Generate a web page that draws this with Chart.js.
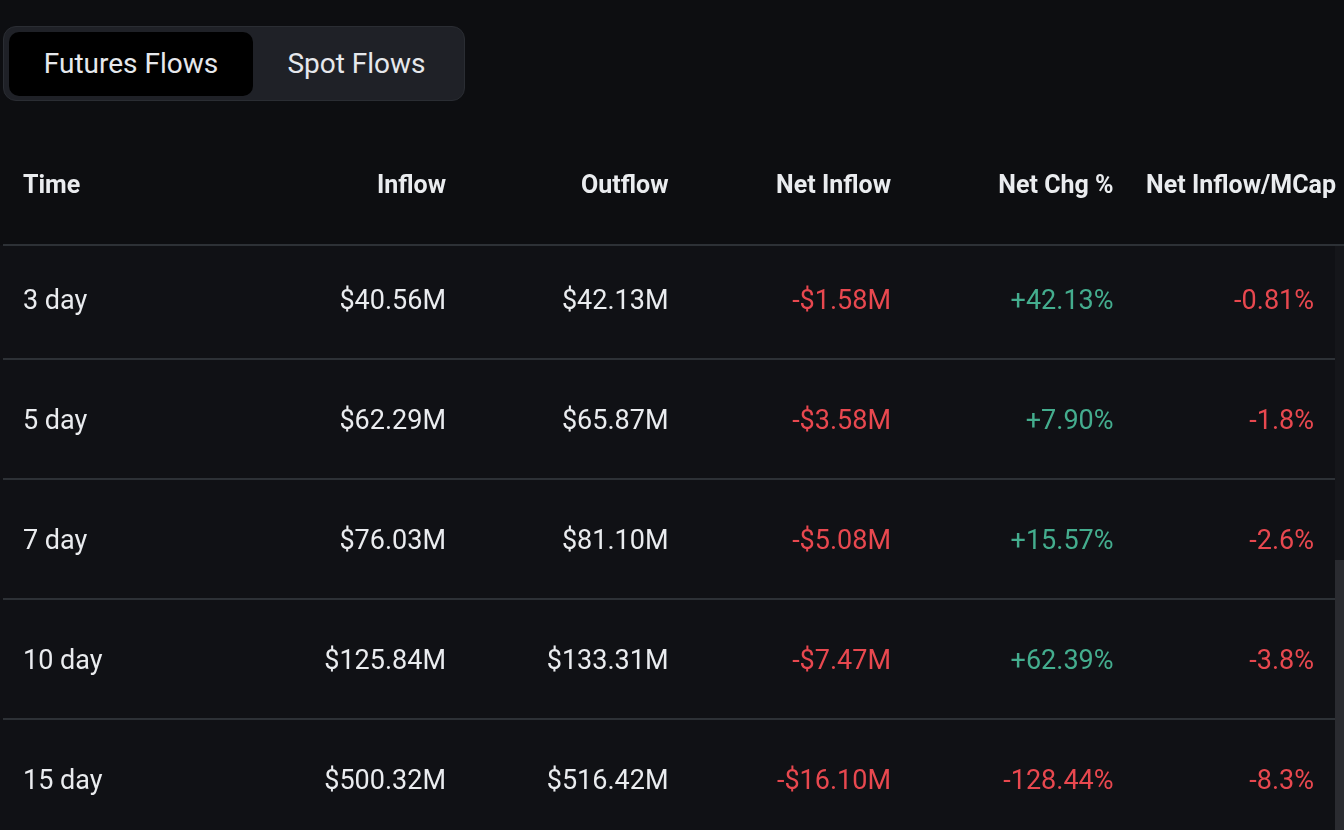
<!DOCTYPE html>
<html>
<head>
<meta charset="utf-8">
<script src="https://cdn.jsdelivr.net/npm/chart.js@4"></script>
<style>
  html, body { margin: 0; padding: 0; background: #0d0e11; overflow: hidden; }
  body { width: 1344px; height: 830px; position: relative; font-family: Roboto, "Noto Sans", sans-serif; }
  .toggle {
    position: absolute; left: 3px; top: 26px; width: 462px; height: 75px;
    box-sizing: border-box; border: 1px solid #2a2d33; border-radius: 13px;
    background: #1f2127;
  }
  .toggle div {
    position: absolute; top: 5px; height: 64px; line-height: 63px;
    text-align: center; font-size: 28px; color: #e6e8ec; border-radius: 10px;
  }
  .toggle .on { left: 5px; width: 244px; background: #000; }
  .toggle .off { left: 249px; width: 207px; }
  #tableCanvas { position: absolute; left: 0; top: 0; }
</style>
</head>
<body>
<div class="toggle">
  <div class="on">Futures Flows</div>
  <div class="off">Spot Flows</div>
</div>
<div style="position:absolute;left:0;top:0;width:1344px;height:830px;">
  <canvas id="tableCanvas"></canvas>
</div>
<script>
const columns = ["Time", "Inflow", "Outflow", "Net Inflow", "Net Chg %", "Net Inflow/MCap"];
const periods = ["3 day", "5 day", "7 day", "10 day", "15 day"];
const inflow = ["$40.56M", "$62.29M", "$76.03M", "$125.84M", "$500.32M"];
const outflow = ["$42.13M", "$65.87M", "$81.10M", "$133.31M", "$516.42M"];
const netInflow = ["-$1.58M", "-$3.58M", "-$5.08M", "-$7.47M", "-$16.10M"];
const netChg = ["+42.13%", "+7.90%", "+15.57%", "+62.39%", "-128.44%"];
const netInflowMcap = ["-0.81%", "-1.8%", "-2.6%", "-3.8%", "-8.3%"];

const WHITE = "#eaecef";
const RED = "#e8484f";
const GREEN = "#44ad8e";
const LINE = "#2d3136";

function cellColor(text, col) {
  if (col < 3) return WHITE;
  return text.charAt(0) === "+" ? GREEN : RED;
}

// one point per cell: x = column right edge (Time column uses left edge), y = row index
const cols = [periods, inflow, outflow, netInflow, netChg, netInflowMcap];
const cells = [];
cols.forEach(function (values, c) {
  values.forEach(function (text, r) {
    cells.push({ x: c === 0 ? 0 : c + 1, y: r, text: text, col: c });
  });
});

const tablePlugin = {
  id: "tablePlugin",
  beforeDraw: function (chart) {
    const ctx = chart.ctx;
    const area = chart.chartArea;
    const x = chart.scales.x;
    const y = chart.scales.y;
    ctx.save();
    // body background
    ctx.fillStyle = "#101115";
    ctx.fillRect(0, y.getPixelForValue(-0.5) + 6, x.getPixelForValue(6), chart.height);
    // scrollbar
    ctx.fillStyle = "#15161a";
    ctx.fillRect(x.getPixelForValue(6), y.getPixelForValue(-0.5) + 7, chart.width, chart.height);
    ctx.fillStyle = "#2a2b30";
    ctx.fillRect(x.getPixelForValue(6), 560, chart.width, chart.height);

    // separators
    ctx.strokeStyle = LINE;
    ctx.lineWidth = 2;
    const lines = [y.getPixelForValue(-0.5) + 6];
    for (let r = 0; r < periods.length; r++) lines.push(y.getPixelForValue(r + 0.5));
    lines.forEach(function (py) {
      ctx.beginPath();
      ctx.moveTo(3, py);
      ctx.lineTo(py === lines[0] ? chart.width : x.getPixelForValue(6), py);
      ctx.stroke();
    });

    // header
    ctx.font = "bold 25px Roboto";
    ctx.fillStyle = WHITE;
    ctx.textBaseline = "middle";
    const hy = area.top - 52;
    columns.forEach(function (name, c) {
      if (c === 0) {
        ctx.textAlign = "left";
        ctx.fillText(name, x.getPixelForValue(0) + 23, hy);
      } else {
        ctx.textAlign = "right";
        ctx.fillText(name, x.getPixelForValue(c + 1) + 1, hy);
      }
    });
    ctx.restore();
  },
  afterDatasetsDraw: function (chart) {
    const ctx = chart.ctx;
    const meta = chart.getDatasetMeta(0);
    ctx.save();
    ctx.font = "27px Roboto";
    ctx.textBaseline = "middle";
    meta.data.forEach(function (pt, i) {
      const cell = cells[i];
      ctx.fillStyle = cellColor(cell.text, cell.col);
      if (cell.col === 0) {
        ctx.textAlign = "left";
        ctx.fillText(cell.text, pt.x + 23, pt.y + 3);
      } else {
        ctx.textAlign = "right";
        const pad = cell.col === 5 ? 21 : -1;
        ctx.fillText(cell.text, pt.x - pad, pt.y + 3);
      }
    });
    ctx.restore();
  },
};

function drawTable() {
  const ctx = document.getElementById("tableCanvas").getContext("2d");

  new Chart(ctx, {
    type: "scatter",
    data: {
      datasets: [
        {
          data: cells,
          pointRadius: 0,
          pointHoverRadius: 0,
        },
      ],
    },
    options: {
      responsive: true,
      maintainAspectRatio: false,
      animation: false,
      layout: { padding: { left: 0, right: 9, top: 239, bottom: 0 } },
      plugins: {
        legend: { display: false },
        tooltip: { enabled: false },
      },
      events: [],
      scales: {
        x: { type: "linear", min: 0, max: 6, display: false },
        y: { type: "linear", min: -0.5, max: 4.425, reverse: true, display: false },
      },
    },
    plugins: [tablePlugin],
  });
}

drawTable();
</script>
</body>
</html>
